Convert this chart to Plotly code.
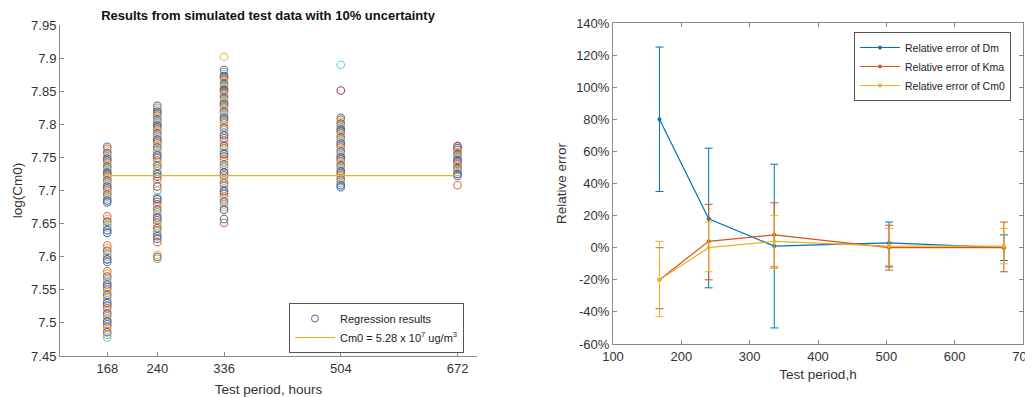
import plotly.graph_objects as go

# ---------------- data: left panel (log(Cm0) regression results) ----------------
periods = [168, 240, 336, 504, 672]

logcm0_168 = [7.766, 7.763, 7.760, 7.757, 7.754, 7.751, 7.748, 7.745, 7.742, 7.739,
              7.736, 7.733, 7.730, 7.727, 7.724, 7.721, 7.718, 7.715, 7.712, 7.709,
              7.706, 7.703, 7.700, 7.697, 7.694, 7.691, 7.688, 7.685, 7.682,
              7.661, 7.657, 7.653, 7.648, 7.644, 7.640, 7.636,
              7.617, 7.613, 7.609, 7.604, 7.600, 7.596, 7.592,
              7.578, 7.574, 7.570, 7.566, 7.562, 7.558, 7.554, 7.550, 7.546, 7.542,
              7.538, 7.534, 7.530, 7.526, 7.522, 7.518, 7.514, 7.510, 7.506, 7.502,
              7.498, 7.494, 7.490, 7.486, 7.482, 7.478]
logcm0_240 = [7.828, 7.825, 7.822, 7.819, 7.816, 7.813, 7.810, 7.807, 7.804, 7.801,
              7.798, 7.795, 7.792, 7.789, 7.786, 7.783, 7.780, 7.777, 7.774, 7.771,
              7.768, 7.765, 7.761, 7.757, 7.753, 7.749, 7.745, 7.741, 7.737, 7.733,
              7.729, 7.725, 7.721, 7.717, 7.712, 7.706, 7.700,
              7.690, 7.687, 7.683, 7.679, 7.675, 7.671, 7.667, 7.663, 7.659, 7.655,
              7.651, 7.647, 7.643, 7.639, 7.635, 7.631, 7.627, 7.622,
              7.603, 7.600, 7.597]
logcm0_336 = [7.902, 7.882, 7.879, 7.876, 7.873, 7.870, 7.867, 7.864, 7.861, 7.858,
              7.855, 7.852, 7.849, 7.846, 7.843, 7.840, 7.837, 7.834, 7.831, 7.828,
              7.825, 7.822, 7.819, 7.816, 7.813, 7.810, 7.807, 7.803, 7.799, 7.795,
              7.791, 7.787, 7.783, 7.779, 7.775, 7.771, 7.767, 7.763, 7.759, 7.755,
              7.751, 7.747, 7.743, 7.739, 7.735, 7.731, 7.727, 7.723, 7.719, 7.715,
              7.711, 7.707, 7.703, 7.699, 7.695, 7.691, 7.687, 7.683, 7.679, 7.675,
              7.671, 7.657, 7.651]
logcm0_504 = [7.890, 7.851, 7.810, 7.807, 7.804, 7.801, 7.798, 7.795, 7.792, 7.789,
              7.786, 7.783, 7.780, 7.777, 7.774, 7.771, 7.768, 7.765, 7.762, 7.759,
              7.756, 7.753, 7.750, 7.747, 7.744, 7.741, 7.738, 7.735, 7.732, 7.729,
              7.726, 7.723, 7.720, 7.717, 7.714, 7.711, 7.708, 7.705]
logcm0_672 = [7.767, 7.764, 7.761, 7.758, 7.755, 7.752, 7.749, 7.746, 7.743, 7.740,
              7.737, 7.734, 7.731, 7.728, 7.725, 7.722, 7.708]
columns = [logcm0_168, logcm0_240, logcm0_336, logcm0_504, logcm0_672]
color_offsets = [0, 3, 2, 5, 6]

cm0_true_log = 7.7226  # log10(5.28e7)

# ---------------- data: right panel (relative errors, %) ----------------
err_x = [168, 240, 336, 504, 672]
dm_val = [80, 18, 1, 3, 0]
dm_up = [125, 62, 52, 16, 8]
dm_lo = [35, -25, -50, -12, -8]
kma_val = [-20, 4, 8, 0, 0]
kma_up = [0, 27, 28, 14, 16]
kma_lo = [-38, -20, -12, -14, -15]
cm0_val = [-20, 0, 4, 1, 1]
cm0_up = [4, 16, 20, 12, 12]
cm0_lo = [-43, -15, -13, -11, -10]

left_xticks = [168, 240, 336, 504, 672]
left_yticks = [7.45, 7.5, 7.55, 7.6, 7.65, 7.7, 7.75, 7.8, 7.85, 7.9, 7.95]
left_yticktext = ["7.45", "7.5", "7.55", "7.6", "7.65", "7.7", "7.75", "7.8", "7.85", "7.9", "7.95"]
right_xticks = [100, 200, 300, 400, 500, 600, 700]
right_yticks = [-60, -40, -20, 0, 20, 40, 60, 80, 100, 120, 140]
right_yticktext = [f"{v}%" for v in right_yticks]

MATLAB = ["#0072BD", "#D95319", "#EDB120", "#7E2F8E", "#77AC30", "#4DBEEE", "#A2142F"]
FONT = "Liberation Sans, Arial, sans-serif"
AX = "#8a8a8a"
TXT = "#333333"

# the page body has an 8px margin, so the figure is 8px smaller and positions are shifted
OFF = 8
W, H = 1033 - OFF, 397 - OFF


def fx(px):
    return (px - OFF) / W


def fy(px):
    return 1 - (px - OFF) / H


fig = go.Figure()

# left scatter columns
for p, vals, off in zip(periods, columns, color_offsets):
    cols = [MATLAB[(i + off) % 7] for i in range(len(vals))]
    fig.add_trace(go.Scatter(
        x=[p] * len(vals), y=vals, mode="markers", xaxis="x", yaxis="y",
        marker=dict(symbol="circle-open", size=7.5, color=cols, line=dict(width=1.1)),
        opacity=0.85, showlegend=False, hoverinfo="skip"))

# horizontal true-value line
fig.add_trace(go.Scatter(
    x=[periods[0], periods[-1]], y=[cm0_true_log, cm0_true_log], mode="lines",
    xaxis="x", yaxis="y", line=dict(color="#EDB120", width=1.2),
    name="Cm0 = 5.28 x 10<sup>7</sup> ug/m<sup>3</sup>", legend="legend", legendrank=2))

# legend entry for regression results
fig.add_trace(go.Scatter(
    x=[None], y=[None], mode="markers", xaxis="x", yaxis="y",
    marker=dict(symbol="circle-open", size=7, color="#55608f", line=dict(width=1)),
    name="Regression results", legend="legend", legendrank=1))

# right panel series
def series(name, vals, up, lo, color):
    fig.add_trace(go.Scatter(
        x=err_x, y=vals, mode="lines+markers", xaxis="x2", yaxis="y2",
        line=dict(color=color, width=1.2),
        marker=dict(symbol="circle", size=4, color=color),
        error_y=dict(type="data", symmetric=False,
                     array=[u - v for u, v in zip(up, vals)],
                     arrayminus=[v - l for v, l in zip(vals, lo)],
                     color=color, thickness=1, width=4),
        name=name, legend="legend2"))

series("Relative error of Dm", dm_val, dm_up, dm_lo, "#0072BD")
series("Relative error of Kma", kma_val, kma_up, kma_lo, "#D95319")
series("Relative error of Cm0", cm0_val, cm0_up, cm0_lo, "#EDB120")

axis_common = dict(showgrid=False, zeroline=False, showline=True, linecolor=AX, linewidth=1,
                   ticks="inside", ticklen=4, tickcolor=AX, ticklabeloverflow="allow",
                   automargin=False,
                   tickfont=dict(family=FONT, size=13, color=TXT))

fig.update_layout(
    width=W, height=H, margin=dict(l=0, r=0, t=0, b=0, autoexpand=False),
    paper_bgcolor="white", plot_bgcolor="white",
    font=dict(family=FONT, color=TXT),
    title=dict(text="<b>Results from simulated test data with 10% uncertainty</b>",
               font=dict(family=FONT, size=13, color="#111111"), automargin=False,
               x=fx(268), xanchor="center", y=fy(15), yanchor="middle"),
    xaxis=dict(domain=[fx(60), fx(477)], range=[100, 700], tickvals=left_xticks,
               title=dict(text="Test period, hours", font=dict(family=FONT, size=13.5, color=TXT), standoff=9),
               anchor="y", **axis_common),
    yaxis=dict(domain=[fy(356), fy(25)], range=[7.45, 7.95], tickvals=left_yticks,
               ticktext=left_yticktext,
               title=dict(text="log(Cm0)", font=dict(family=FONT, size=13.5, color=TXT), standoff=5),
               anchor="x", **axis_common),
    xaxis2=dict(domain=[fx(613), fx(1023)], range=[100, 700], tickvals=right_xticks,
                title=dict(text="Test period,h", font=dict(family=FONT, size=13.5, color=TXT), standoff=6),
                anchor="y2", mirror="ticks", **axis_common),
    yaxis2=dict(domain=[fy(344), fy(23)], range=[-60, 140], tickvals=right_yticks,
                ticktext=right_yticktext,
                title=dict(text="Relative error", font=dict(family=FONT, size=13.5, color=TXT), standoff=6),
                anchor="x2", mirror="ticks", **axis_common),
    legend=dict(x=fx(464), xanchor="right", y=fy(303), yanchor="top",
                bgcolor="white", bordercolor="#555555", borderwidth=1,
                font=dict(family=FONT, size=11, color="#222222"),
                tracegroupgap=0, itemwidth=40, traceorder="normal"),
    legend2=dict(x=fx(1011), xanchor="right", y=fy(32), yanchor="top",
                 bgcolor="white", bordercolor="#555555", borderwidth=1,
                 font=dict(family=FONT, size=10.5, color="#222222"),
                 tracegroupgap=0, itemwidth=40, traceorder="normal"),
)

fig.write_html("out.html")
